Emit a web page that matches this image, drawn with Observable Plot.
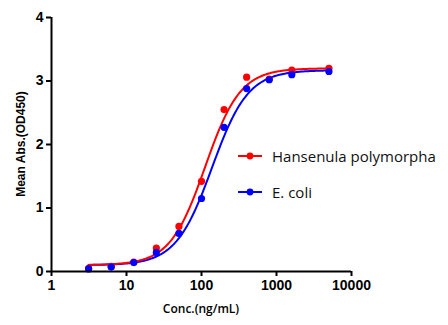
<!DOCTYPE html>
<html><head><meta charset="utf-8">
<script src="https://cdn.jsdelivr.net/npm/d3@7"></script>
<script src="https://cdn.jsdelivr.net/npm/@observablehq/plot@0.6"></script>
<style>
body{margin:0;background:#fff;}
#wrap{position:relative;width:448px;height:325px;}
.leg{position:absolute;left:238px;font-family:"Open Sans",sans-serif;font-size:15px;color:#111;display:flex;align-items:center;white-space:nowrap;}
.leg svg{margin-right:10px;}
</style>
</head><body>
<div id="wrap"></div>
<script>
const concentrations = [3.125, 6.25, 12.5, 25, 50, 100, 200, 400, 800, 1600, 5000];
const hansenula = [0.05, 0.08, 0.15, 0.37, 0.71, 1.42, 2.55, 3.06, 3.03, 3.17, 3.20];
const ecoli     = [0.04, 0.07, 0.14, 0.30, 0.60, 1.15, 2.27, 2.88, 3.02, 3.10, 3.15];
const seriesNames = ["Hansenula polymorpha", "E. coli"];
const seriesColors = ["#ff0000", "#0000ff"];
// 4PL fit parameters: [bottom, top, EC50, hill]
const fitHansenula = [0.10, 3.20, 112, 1.85];
const fitEcoli     = [0.10, 3.17, 138, 1.80];
const xTicks = [1, 10, 100, 1000, 10000];
const yTicks = [0, 1, 2, 3, 4];
const xTitle = "Conc.(ng/mL)";
const yTitle = "Mean Abs.(OD450)";

const pts = [];
concentrations.forEach((c,i)=>{
  pts.push({x:c,y:hansenula[i],s:seriesNames[0]});
  pts.push({x:c,y:ecoli[i],s:seriesNames[1]});
});
const fits = [fitHansenula, fitEcoli];
const curve = [];
fits.forEach((p,k)=>{
  const [b,t,ec,h] = p;
  const lo = Math.log10(concentrations[0]), hi = Math.log10(concentrations[concentrations.length-1]);
  for(let j=0;j<=200;j++){
    const x = Math.pow(10, lo + (hi-lo)*j/200);
    curve.push({x, y: b + (t-b)/(1+Math.pow(ec/x,h)), s: seriesNames[k]});
  }
});

const plot = Plot.plot({
  width:448, height:325,
  marginLeft:51, marginRight:97, marginTop:17, marginBottom:54,
  style:{fontFamily:"Liberation Sans, Arial, sans-serif", fontSize:"14px", fontWeight:"bold", color:"#000"},
  x:{type:"log", domain:[1,10000], ticks:xTicks, tickFormat:d=>String(d), label:null, tickSize:5, tickPadding:4},
  y:{domain:[0,4], ticks:yTicks, tickFormat:d=>String(d), label:null, tickSize:5, tickPadding:3},
  color:{domain:seriesNames, range:seriesColors},
  marks:[
    Plot.line(curve.filter(d=>d.s===seriesNames[1]), {x:"x", y:"y", stroke:"s", strokeWidth:2}),
    Plot.line(curve.filter(d=>d.s===seriesNames[0]), {x:"x", y:"y", stroke:"s", strokeWidth:2}),
    Plot.dot(pts.filter(d=>d.s===seriesNames[0]), {x:"x", y:"y", fill:"s", r:3.6}),
    Plot.dot(pts.filter(d=>d.s===seriesNames[1]), {x:"x", y:"y", fill:"s", r:3.6}),
    Plot.ruleX([1], {strokeWidth:2}),
    Plot.ruleY([0], {strokeWidth:2})
  ]
});
plot.querySelectorAll('[aria-label="x-axis tick"] path, [aria-label="y-axis tick"] path').forEach(p=>p.setAttribute("stroke-width","2"));
const wrap = document.getElementById("wrap");
wrap.appendChild(plot);

// axis titles as SVG text
const svg = d3.select(plot);
svg.append("text").text(yTitle)
  .attr("transform","translate(25,144) rotate(-90)")
  .attr("text-anchor","middle")
  .attr("font-family","Liberation Sans, Arial, sans-serif")
  .attr("font-size","12px").attr("font-weight","bold").attr("fill","#000");
svg.append("text").text(xTitle)
  .attr("x",201).attr("y",313)
  .attr("text-anchor","middle")
  .attr("font-family","Open Sans, sans-serif")
  .attr("font-size","12px").attr("font-weight","600").attr("fill","#000");

// legend
seriesNames.forEach((n,i)=>{
  const d = document.createElement("div");
  d.className="leg";
  d.style.top = (146 + i*36) + "px";
  d.innerHTML = `<svg width="24" height="10"><line x1="0" y1="5" x2="24" y2="5" stroke="${seriesColors[i]}" stroke-width="2"/><circle cx="12" cy="5" r="3.4" fill="${seriesColors[i]}"/></svg><span>${n}</span>`;
  wrap.appendChild(d);
});
</script>
</body></html>
